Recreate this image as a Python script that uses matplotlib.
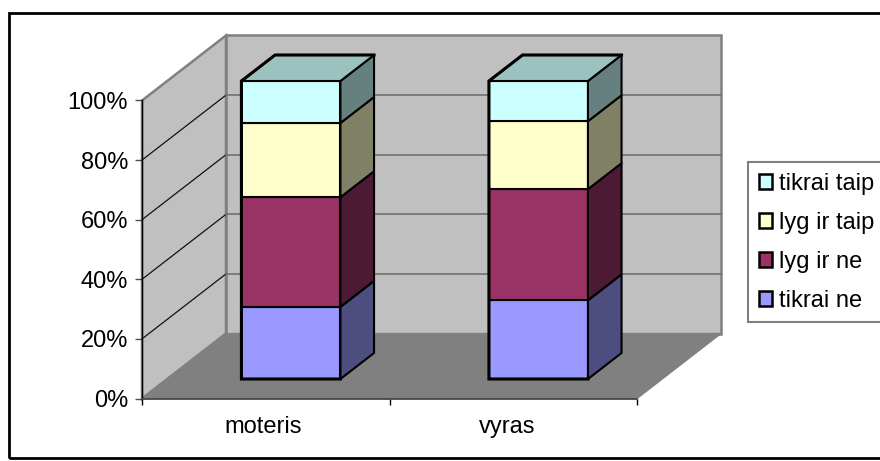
import matplotlib
matplotlib.use('Agg')
import matplotlib.pyplot as plt
from matplotlib.patches import Polygon, Patch, Rectangle

plt.rcParams['font.family'] = ['Liberation Sans', 'DejaVu Sans']

# --- data (percent of each bar) ---
categories = ['moteris', 'vyras']
tikrai_ne = [24.2, 26.4]
lyg_ir_ne = [36.8, 37.3]
lyg_ir_taip = [24.9, 22.8]
tikrai_taip = [14.1, 13.5]
series_names = ['tikrai ne', 'lyg ir ne', 'lyg ir taip', 'tikrai taip']
yticks = [0, 20, 40, 60, 80, 100]

front_colors = ['#9999FF', '#993366', '#FFFFCC', '#CCFFFF']
side_colors = ['#4D4D80', '#4D1A33', '#808066', '#668080']
top_color = '#9CC2C0'

W, H = 880, 461
fig = plt.figure(figsize=(W / 100, H / 100), dpi=100)
ax = fig.add_axes([142 / W, (H - 398.5) / H, 495 / W, 298 / H])
ax.set_xlim(0, 2)
ax.set_ylim(0, 100)
ax.patch.set_visible(False)

# depth of the floor in data units
DX = 84 / 247.5
DY = 65 / 2.98


def pt(x, v, d=0.0):
    return (x + d * DX, v + d * DY)


def poly(points, **kw):
    kw.setdefault('clip_on', False)
    ax.add_patch(Polygon(points, closed=True, **kw))


# --- walls and floor ---
wall = dict(facecolor='#C0C0C0', edgecolor='#808080', linewidth=1.8, zorder=1)
poly([pt(0, 0, 1), pt(2, 0, 1), pt(2, 100, 1), pt(0, 100, 1)], **wall)
poly([pt(0, 0), pt(0, 0, 1), pt(0, 100, 1), pt(0, 100)], **wall)
poly([pt(0, 0), pt(2, 0), pt(2, 0, 1), pt(0, 0, 1)], facecolor='#808080',
     edgecolor='#808080', linewidth=1, zorder=2)

for v in yticks[1:-1]:
    ax.plot(*zip(pt(0, v), pt(0, v, 1)), color='#111111', lw=0.9, zorder=3, clip_on=False)
    ax.plot(*zip(pt(0, v, 1), pt(2, v, 1)), color='#707070', lw=1.2, zorder=3, clip_on=False)

# --- stacked bars ---
bar_left = [0.30, 1.30]
bar_width = 0.40
d0, d1 = 0.30, 0.70
stacks = [tikrai_ne, lyg_ir_ne, lyg_ir_taip, tikrai_taip]

for i in range(len(categories)):
    x0 = bar_left[i]
    x1 = x0 + bar_width
    bottom = 0
    for s, values in enumerate(stacks):
        top = bottom + values[i]
        edge = dict(edgecolor='black', linewidth=1.5, zorder=5, joinstyle='round')
        poly([pt(x0, bottom, d0), pt(x1, bottom, d0), pt(x1, top, d0), pt(x0, top, d0)],
             facecolor=front_colors[s], **edge)
        poly([pt(x1, bottom, d0), pt(x1, bottom, d1), pt(x1, top, d1), pt(x1, top, d0)],
             facecolor=side_colors[s], **edge)
        bottom = top
    poly([pt(x0, bottom, d0), pt(x1, bottom, d0), pt(x1, bottom, d1), pt(x0, bottom, d1)],
         facecolor=top_color, edgecolor='black', linewidth=1.5, zorder=5)
    # heavier left, back and bottom edges, as in the reference
    heavy = [pt(x1, 0, d0), pt(x0, 0, d0), pt(x0, bottom, d0), pt(x0, bottom, d1), pt(x1, bottom, d1)]
    ax.plot(*zip(*heavy), color='black', lw=2.2, zorder=6, clip_on=False,
            solid_joinstyle='miter')

# --- axes ---
for side in ['top', 'right']:
    ax.spines[side].set_visible(False)
ax.spines['left'].set_linewidth(1)
ax.spines['left'].set_zorder(4)
ax.spines['bottom'].set_linewidth(1.2)
ax.spines['bottom'].set_color('#404040')
ax.spines['bottom'].set_zorder(4)
ax.set_yticks(yticks)
ax.set_yticklabels([f'{v}%' for v in yticks], fontsize=17)
ax.set_xticks([0, 1, 2])
ax.set_xticklabels([])
ax.set_xticks([0.49, 1.475], minor=True)
ax.set_xticklabels(categories, minor=True, fontsize=17)
ax.tick_params(axis='y', length=5, width=1, pad=5, color='#505050')
ax.tick_params(axis='x', which='major', length=4.3, width=1)
ax.tick_params(axis='x', which='minor', length=0, pad=12.5)

# --- legend, top entry first ---
handles = [Patch(facecolor=front_colors[s], edgecolor='black', linewidth=1.8,
                 label=series_names[s]) for s in [3, 2, 1, 0]]
leg = fig.legend(handles=handles, loc='upper left', fontsize=17,
                 bbox_to_anchor=(748 / W, (H - 162) / H), bbox_transform=fig.transFigure,
                 handlelength=0.58, handleheight=0.58, handletextpad=0.28,
                 labelspacing=0.72, borderpad=0.45, borderaxespad=0, fancybox=False,
                 framealpha=1, edgecolor='#808080')
leg.get_frame().set_linewidth(1.5)

# --- outer frame ---
fig.patches.append(Rectangle((9 / W, 1 - 458 / H), 880 / W, 445 / H, transform=fig.transFigure,
                             fill=False, edgecolor='black', linewidth=2))

fig.savefig('out.png', dpi=100)
